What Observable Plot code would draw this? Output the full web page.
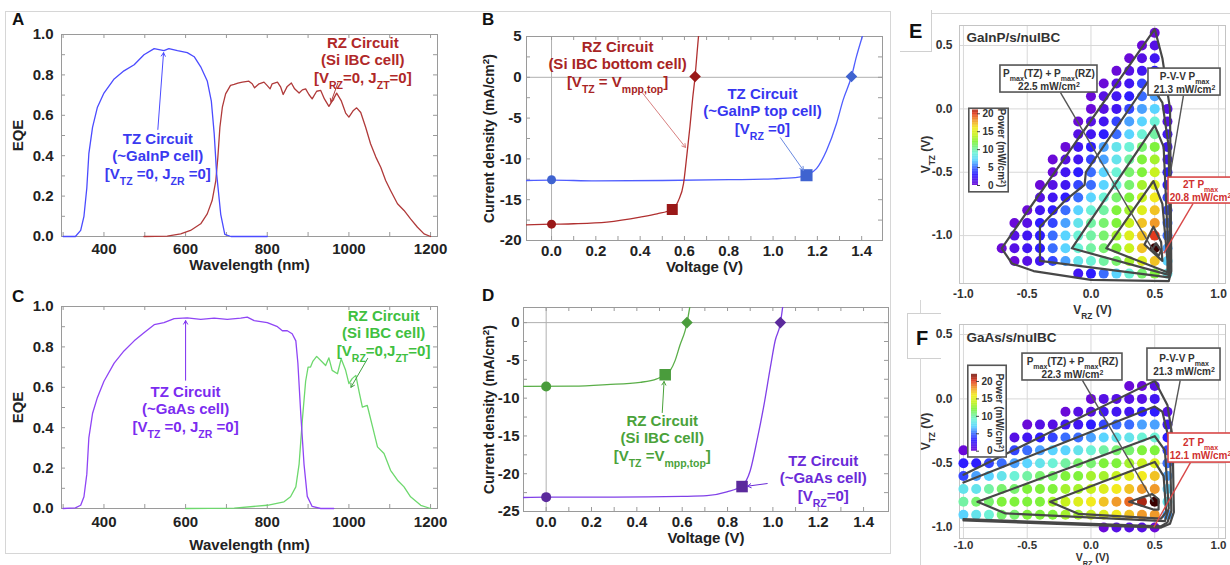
<!DOCTYPE html>
<html><head><meta charset="utf-8">
<script src="https://cdn.jsdelivr.net/npm/d3@7"></script>
<script src="https://cdn.jsdelivr.net/npm/@observablehq/plot@0.6"></script>
<style>
body{margin:0;background:#fff;}
#root{position:relative;width:1230px;height:565px;overflow:hidden;background:#fff;font-family:"Liberation Sans",Arial,Helvetica,sans-serif;}
.lbl{position:absolute;font-weight:bold;line-height:1;color:#111;}
.ln{position:absolute;background:#d6d6d6;}
</style></head><body><div id="root"></div>
<script>
// ================= DATA =================
// Panel A (GaInP / Si EQE)
const aTzWavelength = [300,330,343,351,358,363,372,384,400,425,449,474,498,523,547,559,580,604,621,637,653,663,670,676,686,696,711,800];
const aTzEqe = [0,0,0.03,0.10,0.24,0.41,0.54,0.64,0.71,0.78,0.82,0.85,0.90,0.93,0.92,0.93,0.92,0.91,0.89,0.84,0.77,0.67,0.51,0.31,0.11,0.01,0,0];
const aRzWavelength = [498,555,588,612,637,653,665,674,679,684,690,698,710,719,728,739,755,763,769,780,792,800,807,812,825,833,839,849,859,867,878,886,894,902,910,921,931,940,951,962,970,981,992,1000,1011,1019,1029,1041,1053,1066,1078,1090,1102,1119,1135,1151,1168,1184,1200];
const aRzEqe = [0,0.002,0.013,0.03,0.063,0.112,0.178,0.277,0.393,0.541,0.640,0.706,0.748,0.753,0.759,0.764,0.769,0.756,0.736,0.756,0.764,0.747,0.731,0.756,0.764,0.739,0.703,0.743,0.76,0.731,0.71,0.726,0.731,0.703,0.681,0.719,0.723,0.681,0.644,0.680,0.710,0.673,0.611,0.591,0.624,0.637,0.614,0.541,0.459,0.393,0.343,0.277,0.228,0.162,0.129,0.087,0.046,0.013,0];
// Panel C (GaAs / Si EQE)
const cTzWavelength = [300,330,343,351,358,363,372,384,400,425,449,474,498,523,547,572,604,637,670,702,735,751,768,800,825,837,849,861,870,875,882,890,898,910,931,963];
const cTzEqe = [0,0.003,0.016,0.058,0.17,0.35,0.47,0.55,0.63,0.72,0.78,0.83,0.87,0.91,0.92,0.94,0.944,0.936,0.942,0.936,0.942,0.947,0.93,0.92,0.90,0.88,0.88,0.865,0.83,0.72,0.47,0.22,0.06,0.01,0,0];
const cRzWavelength = [600,719,800,841,857,870,878,886,894,900,906,912,921,931,943,951,959,972,981,992,1000,1008,1017,1025,1033,1045,1058,1070,1086,1102,1119,1135,1151,1176,1200];
const cRzEqe = [0,0.002,0.016,0.033,0.058,0.107,0.22,0.44,0.63,0.70,0.70,0.73,0.753,0.733,0.708,0.746,0.684,0.667,0.741,0.684,0.618,0.643,0.659,0.577,0.502,0.51,0.404,0.305,0.272,0.189,0.14,0.107,0.058,0.016,0];
// Panel B (J-V, GaInP / Si)
const bRzVoltage = [-0.113,0,0.1,0.25,0.40,0.476,0.543,0.573,0.596,0.611,0.625,0.637,0.648,0.657,0.664];
const bRzCurrent = [-18.08,-18.0,-17.95,-17.75,-17.14,-16.73,-16.2,-15.1,-13.0,-9.5,-6.0,-2.6,0.1,3.0,5.2];
const bTzVoltage = [-0.113,0,0.2,0.5,0.8,1.0,1.1,1.151,1.196,1.241,1.286,1.316,1.354,1.376,1.403];
const bTzCurrent = [-12.65,-12.6,-12.7,-12.65,-12.55,-12.45,-12.3,-12.0,-11.2,-9.0,-5.7,-2.8,0.1,2.5,5.0];
const bRzMarkV = [0,0.545,0.648], bRzMarkJ = [-18.0,-16.2,0.1];
const bTzMarkV = [0,1.151,1.354], bTzMarkJ = [-12.55,-12.0,0.1];
// Panel D (J-V, GaAs / Si)
const dRzVoltage = [-0.1,0.12,0.268,0.415,0.488,0.525,0.547,0.569,0.59,0.613,0.621,0.632,0.64];
const dRzCurrent = [-8.45,-8.4,-8.2,-7.9,-7.45,-6.9,-6.35,-5.0,-3.0,-1.06,-0.1,1.8,3.0];
const dTzVoltage = [-0.1,0,0.3,0.6,0.709,0.797,0.864,0.9,0.93,0.959,0.989,1.01,1.033,1.045];
const dTzCurrent = [-23.15,-23.1,-23.1,-23.0,-22.9,-22.4,-21.6,-19.6,-15.6,-11.2,-5.9,-2.4,-0.1,2.5];
const dRzMarkV = [0,0.525,0.621], dRzMarkJ = [-8.45,-6.9,0];
const dTzMarkV = [0,0.864,1.033], dTzMarkJ = [-23.1,-21.7,0];
// Panel E power map (GaInP/s/nuIBC): rows of V_TZ, first V_RZ of row, powers at 0.1 V steps
const eRowVtz = [0.6,0.5,0.4,0.3,0.2,0.1,0.0,-0.1,-0.2,-0.3,-0.4,-0.5,-0.6,-0.7,-0.8,-0.9,-1.0,-1.1,-1.2,-1.3];
const eRowStart = [0.5,0.4,0.3,0.2,0.1,0.0,0.0,-0.1,-0.1,-0.2,-0.3,-0.3,-0.4,-0.4,-0.5,-0.6,-0.6,-0.7,-0.6,-0.1];
const eRowPower = [
 [0],[0,1],[0,1,2],[0,1,2,3],[0,1,2,4,4],[0,1,2,3,5,6],[0,1,2,4,6,7,1],
 [0,1,2,4,6,7,9,1],[1,2,3,5,7,9,10,2],[0,2,3,6,8,9,11,12,2],[0,1,2,4,6,8,10,12,13,2],
 [0,2,3,5,7,9,11,12,14,3],[0,1,2,4,5,7,9,11,13,15,3],[1,2,3,5,7,9,11,12,14,16,4],
 [0,2,3,5,7,9,10,12,13,15,17,4],[0,1,3,4,6,8,10,11,12,14,17,18,5],[1,2,3,5,7,9,10,11,13,15,17,20,5],
 [0,1,2,3,5,7,9,10,11,12,14,17,23,6],[0,1,2,4,6,8,9,10,11,13,15,17,7],[2,3,5,7,9,11,12,8]
];
const eContours = [
 [[-0.70,-1.10],[0.50,0.63],[0.56,0.40],[0.62,0.0],[0.63,-1.28],[0.61,-1.36],[0.0,-1.35],[-0.45,-1.28],[-0.62,-1.22],[-0.70,-1.10]],
 [[0.61,-1.33],[-0.40,-1.2],[-0.40,-0.93],[-0.20,-0.72],[-0.05,-0.60],[-0.04,-0.50],[0.45,0.22],[0.56,0.05],[0.61,-0.3],[0.62,-1.25],[0.61,-1.33]],
 [[0.61,-1.31],[-0.15,-1.10],[0.50,-0.13],[0.57,-0.3],[0.61,-1.2],[0.61,-1.31]],
 [[0.60,-1.29],[0.12,-1.10],[0.49,-0.57],[0.56,-0.75],[0.60,-1.2],[0.60,-1.29]],
 [[0.56,-1.2],[0.42,-1.07],[0.49,-0.93],[0.55,-1.05],[0.56,-1.2]],
 [[0.53,-1.16],[0.48,-1.11],[0.51,-1.06],[0.55,-1.12],[0.53,-1.16]]
];
// Panel F power map (GaAs/s/nuIBC)
const fRowVtz = [0.1,0.0,-0.1,-0.2,-0.3,-0.4,-0.5,-0.6,-0.7,-0.8,-0.9,-1.0];
const fRowStart = [0.3,0.0,-0.2,-0.5,-0.7,-1.0,-1.0,-1.0,-1.0,-1.0,-1.0,0.1];
const fRowPower = [
 [0,0,1],[0,1,1,1,1,2],[0,1,1,2,2,2,3,3,1],[0,1,1,2,2,3,4,5,5,6,6,2],
 [0,1,2,3,4,5,5,6,7,8,8,9,9,3],
 [0,1,2,3,4,5,6,7,7,8,9,10,11,11,12,12,4],
 [3,3,4,5,6,7,8,9,10,11,11,12,12,13,14,15,5],
 [4,6,7,8,9,10,11,11,12,12,13,13,14,15,16,17,6],
 [8,8,10,11,11,12,12,12,13,13,14,15,16,17,18,18,7],
 [10,11,11,12,12,12,12,13,14,15,16,17,18,19,21,23,8],
 [7,8,9,11,11,12,12,12,13,13,14,15,16,17,18,18,6],
 [0,1,1,1,0]
];
const fContours = [
 [[-1.0,-0.59],[0.5,0.14],[0.6,-0.05],[0.64,-0.3],[0.65,-0.88],[0.62,-0.97],[0.55,-1.0],[-1.0,-0.945]],
 [[-1.0,-0.65],[0.5,-0.06],[0.56,-0.1],[0.62,-0.35],[0.63,-0.87],[0.6,-0.96],[0.55,-0.99],[-1.0,-0.935]],
 [[-0.89,-0.80],[0.5,-0.29],[0.58,-0.4],[0.61,-0.85],[0.58,-0.95],[-0.67,-0.89],[-0.89,-0.80]],
 [[-0.32,-0.80],[0.5,-0.49],[0.57,-0.6],[0.59,-0.88],[0.55,-0.93],[-0.1,-0.893],[-0.32,-0.80]],
 [[0.3,-0.80],[0.48,-0.74],[0.53,-0.78],[0.53,-0.86],[0.49,-0.86],[0.3,-0.80]]
];
// colour map for power (mW/cm2)
const powerStops = [0,3,5,7,9,12,14,16,18,20,23];
const powerColors = ["#6a0ad8","#2d1cff","#3a6dff","#5ad4ff","#6df2d6","#7ff23c","#c8f21e","#f2ea1e","#f09a2a","#e23a1e","#3a0000"];
// tick labels
const eqeXTicks = [400,600,800,1000,1200];
const eqeYTicks = [0,0.2,0.4,0.6,0.8,1.0];
const eqeMinorX = [300,400,500,600,700,800,900,1000,1100,1200];
const eqeMinorY = [0,0.1,0.2,0.3,0.4,0.5,0.6,0.7,0.8,0.9,1.0];
const ivXTicks = [0,0.2,0.4,0.6,0.8,1.0,1.2,1.4];
const ivMinorX = [0,0.1,0.2,0.3,0.4,0.5,0.6,0.7,0.8,0.9,1.0,1.1,1.2,1.3,1.4];
const bYTicks = [5,0,-5,-10,-15,-20];
const bMinorY = [5,2.5,0,-2.5,-5,-7.5,-10,-12.5,-15,-17.5,-20];
const dYTicks = [0,-5,-10,-15,-20,-25];
const dMinorY = [0,-2.5,-5,-7.5,-10,-12.5,-15,-17.5,-20,-22.5,-25];
const mapXTicks = [-1.0,-0.5,0.0,0.5,1.0];
const mapYTicks = [0.5,0.0,-0.5,-1.0];
const powerTicks = [0,5,10,15,20];

// ================= HELPERS =================
const FONT = '"Liberation Sans", Arial, Helvetica, sans-serif';
const root = document.getElementById("root");
const baseStyle = {background:"transparent", fontFamily:FONT, color:"#222", overflow:"visible"};
const zip = (xs, ys) => xs.map((x,i)=>({x, y:ys[i]}));
const DIAMOND = (()=>{try{Plot.plot({marks:[Plot.dot([0],{x:d=>d,symbol:"diamond2"})]});return "diamond2";}catch(e){return "diamond";}})();

function richify(node){
  node.querySelectorAll("text").forEach(t=>{
    const spans = t.querySelectorAll("tspan");
    const targets = spans.length ? Array.from(spans) : [t];
    targets.forEach(el=>{
      const s = el.textContent;
      if(!/[_^]\{/.test(s)) return;
      while(el.firstChild) el.removeChild(el.firstChild);
      const re=/([_^])\{([^}]*)\}/g; let last=0, m;
      while((m=re.exec(s))){
        if(m.index>last) el.appendChild(document.createTextNode(s.slice(last,m.index)));
        const ts=document.createElementNS("http://www.w3.org/2000/svg","tspan");
        ts.setAttribute("baseline-shift", m[1]==="_" ? "sub" : "super");
        ts.setAttribute("font-size","70%");
        ts.textContent=m[2]; el.appendChild(ts); last=re.lastIndex;
      }
      if(last<s.length) el.appendChild(document.createTextNode(s.slice(last)));
    });
  });
}
function mount(svg, left, top){
  const d=document.createElement("div");
  d.style.cssText=`position:absolute;left:${left}px;top:${top}px;`;
  d.appendChild(svg); root.appendChild(d); richify(svg);
}
function html(cls, css, text){
  const d=document.createElement("div"); d.className=cls; d.style.cssText=css; if(text) d.textContent=text; root.appendChild(d);
}
function note(x,y,text,fill,size=15){
  return Plot.text([text],{x,y,text:d=>d,fill,fontSize:size,fontWeight:"bold",lineHeight:1.17,lineAnchor:"middle"});
}
function arrow(x1,y1,x2,y2,stroke,w=1){
  return Plot.arrow([0],{x1,y1,x2,y2,stroke,strokeWidth:w,headLength:6,bend:0});
}
// circle / square / diamond markers (Jsc, MPP, Voc)
function markers(vs, js, fill, rc, rs, rd){
  const pts = zip(vs, js);
  return [
    Plot.dot(pts.slice(0,1),{x:"x",y:"y",fill,r:rc,symbol:"circle"}),
    Plot.dot(pts.slice(1,2),{x:"x",y:"y",fill,r:rs,symbol:"square"}),
    Plot.dot(pts.slice(2,3),{x:"x",y:"y",fill,r:rd,symbol:DIAMOND})
  ];
}

function framed(c){
  const fw=c.width-c.ml-c.mr, fh=c.height-c.mt-c.mb;
  const xd=c.xd, yd=c.yd;
  const lx=(xd[1]-xd[0])/fw*4, ly=(yd[1]-yd[0])/fh*4;
  const tk="#9a9a9a";
  const marks=[
    ...(c.under||[]),
    Plot.ruleX(c.minorX,{x:d=>d,y1:yd[0],y2:yd[0]+ly,stroke:tk}),
    Plot.ruleX(c.minorX,{x:d=>d,y1:yd[1],y2:yd[1]-ly,stroke:tk}),
    Plot.ruleY(c.minorY,{y:d=>d,x1:xd[0],x2:xd[0]+lx,stroke:tk}),
    Plot.ruleY(c.minorY,{y:d=>d,x1:xd[1],x2:xd[1]-lx,stroke:tk}),
    Plot.frame({stroke:"#9a9a9a"}),
    Plot.axisX(c.xTicks,{tickSize:0,tickPadding:c.xPad,tickFormat:c.xFmt,fontSize:15,fontWeight:"bold",fill:"#222",label:null}),
    Plot.axisY(c.yTicks,{tickSize:0,tickPadding:c.yPad,tickFormat:c.yFmt,fontSize:15,fontWeight:"bold",fill:"#222",label:null}),
    Plot.text([c.xLabel],{text:d=>d,frameAnchor:"bottom",dy:c.xLabelDy,textAnchor:"middle",fontSize:15,fontWeight:"bold",fill:"#222",lineAnchor:"middle"}),
    Plot.text([c.yLabel],{text:d=>d,frameAnchor:"left",dx:c.yLabelDx,rotate:-90,textAnchor:"middle",fontSize:c.yLabelSize||15,fontWeight:"bold",fill:"#222",lineAnchor:"middle"}),
    ...c.marks
  ];
  const svg=Plot.plot({width:c.width,height:c.height,marginTop:c.mt,marginRight:c.mr,marginBottom:c.mb,marginLeft:c.ml,
    x:{domain:xd},y:{domain:yd},style:baseStyle,marks});
  mount(svg,c.left,c.top);
}

function fieldPoints(vtz, starts, power){
  const pts=[];
  vtz.forEach((y,i)=>power[i].forEach((p,j)=>pts.push({vrz:+(starts[i]+0.1*j).toFixed(2), vtz:y, p})));
  return pts;
}

function mapPanel(c){
  const marks=[
    Plot.ruleX(mapXTicks,{x:d=>d,stroke:"#d8d8d8"}),
    Plot.ruleY(mapYTicks,{y:d=>d,stroke:"#d8d8d8"}),
    Plot.frame({stroke:"#c4c4c4"}),
    Plot.dot(c.points,{x:"vrz",y:"vtz",r:5,fill:"p"}),
    ...c.contours.map(k=>Plot.line(k,{x:d=>d[0],y:d=>d[1],stroke:"#474747",strokeWidth:2.2,strokeLinejoin:"round"})),
    Plot.link(c.grayLeaders,{x1:d=>d[0],y1:d=>d[1],x2:d=>d[2],y2:d=>d[3],stroke:"#555",strokeWidth:1.4}),
    Plot.link(c.redLeaders,{x1:d=>d[0],y1:d=>d[1],x2:d=>d[2],y2:d=>d[3],stroke:"#d84848",strokeWidth:1.4}),
    Plot.rect(c.grayBoxes,{x1:"x1",x2:"x2",y1:"y1",y2:"y2",fill:"white",stroke:"#555",strokeWidth:1.6}),
    Plot.rect(c.redBoxes,{x1:"x1",x2:"x2",y1:"y1",y2:"y2",fill:"white",stroke:"#d84848",strokeWidth:1.6}),
    Plot.text(c.grayBoxes,{x:d=>(d.x1+d.x2)/2,y:d=>(d.y1+d.y2)/2,text:"text",fill:"#333",fontSize:10,fontWeight:"bold",lineHeight:1.3,lineAnchor:"middle"}),
    Plot.text(c.redBoxes,{x:d=>(d.x1+d.x2)/2,y:d=>(d.y1+d.y2)/2,text:"text",fill:"#d03030",fontSize:10,fontWeight:"bold",lineHeight:1.3,lineAnchor:"middle"}),
    Plot.axisX(mapXTicks,{tickSize:0,tickPadding:c.xPad,tickFormat:d=>d.toFixed(1),fontSize:c.tickSize||12,fontWeight:"bold",fill:"#333",label:null}),
    Plot.axisY(mapYTicks,{tickSize:0,tickPadding:7,tickFormat:d=>d.toFixed(1),fontSize:12,fontWeight:"bold",fill:"#333",label:null}),
    Plot.text([c.title],{text:d=>d,frameAnchor:"top-left",dx:7,dy:c.titleDy,textAnchor:"start",lineAnchor:"middle",fontSize:13.5,fontWeight:"bold",fill:"#333"}),
    Plot.text(["V_{RZ} (V)"],{text:d=>d,frameAnchor:"bottom",dy:c.xLabelDy,textAnchor:"middle",lineAnchor:"middle",fontSize:c.xLabelSize||12,fontWeight:"bold",fill:"#333"}),
    Plot.text(["V_{TZ} (V)"],{text:d=>d,frameAnchor:"left",dx:-33,rotate:-90,textAnchor:"middle",lineAnchor:"middle",fontSize:12,fontWeight:"bold",fill:"#333"})
  ];
  const svg=Plot.plot({width:c.width,height:c.height,marginTop:c.mt,marginRight:c.mr,marginBottom:c.mb,marginLeft:c.ml,
    x:{domain:c.xd},y:{domain:c.yd},color:{type:"linear",domain:powerStops,range:powerColors,interpolate:"rgb"},
    style:baseStyle,marks});
  mount(svg,c.left,c.top);
}

function colorbar(left,top,w,h,mt,mb,ymax,boxY1,boxY2){
  const ramp=d3.range(0,ymax,0.2);
  const svg=Plot.plot({width:w,height:h,marginTop:mt,marginBottom:mb,marginLeft:0,marginRight:0,
    x:{domain:[0,w],axis:null},y:{domain:[0,ymax],axis:null},
    color:{type:"linear",domain:powerStops,range:powerColors,interpolate:"rgb"},style:baseStyle,
    marks:[
      Plot.rect([0],{x1:0.8,x2:w-0.8,y1:boxY1,y2:boxY2,fill:"white",stroke:"#555",strokeWidth:1.6}),
      Plot.rect(ramp,{x1:4,x2:10,y1:d=>d,y2:d=>d+0.25,fill:d=>d+0.1}),
      Plot.ruleY(powerTicks,{y:d=>d,x1:9,x2:12,stroke:"#444"}),
      Plot.text(powerTicks,{x:25,y:d=>d,text:d=>String(d),textAnchor:"end",fontSize:10,fontWeight:"bold",fill:"#333"}),
      Plot.text(["Power (mW/cm^{2})"],{x:w-8,y:ymax/2,text:d=>d,rotate:90,fontSize:10,fontWeight:"bold",fill:"#333"})
    ]});
  mount(svg,left,top);
}

// ================= FIGURE =================
html("ln","left:5px;top:11px;width:884px;height:541px;background:none;border:1px solid #d6d6d6;");
html("ln","left:932px;top:13px;width:298px;height:1px;");
html("ln","left:900px;top:10px;width:31px;height:41px;background:none;border-right:1px solid #d0d0d0;border-bottom:1px solid #d0d0d0;");
html("ln","left:920px;top:300px;width:1px;height:13px;");
html("ln","left:907px;top:313px;width:33px;height:44px;background:none;border:1px solid #d0d0d0;border-right:none;");
html("ln","left:920px;top:358px;width:1px;height:207px;");

// Panel A
framed({left:0,top:0,width:450,height:285,mt:34,mr:13,mb:49,ml:61,xd:[296,1217],yd:[0,1],
  minorX:eqeMinorX,minorY:eqeMinorY,xTicks:eqeXTicks,yTicks:eqeYTicks,xPad:7,yPad:8,
  xFmt:d=>String(d),yFmt:d=>d.toFixed(1),xLabel:"Wavelength (nm)",xLabelDy:29,yLabel:"EQE",yLabelDx:-43,
  marks:[
    Plot.line(zip(aRzWavelength,aRzEqe),{x:"x",y:"y",stroke:"#b03a3a",strokeWidth:1.3}),
    Plot.line(zip(aTzWavelength,aTzEqe),{x:"x",y:"y",stroke:"#4b4bff",strokeWidth:1.3}),
    arrow(532,0.53,546,0.91,"#4b4bff"),
    arrow(973,0.76,956,0.665,"#b03a3a"),
    note(532,0.40,"TZ Circuit\n(~GaInP cell)\n[V_{TZ} =0, J_{ZR} =0]","#3a3af0"),
    note(1034,0.876,"RZ Circuit\n(Si IBC cell)\n[V_{RZ}=0, J_{ZT}=0]","#b02828")
  ]});

// Panel B
framed({left:440,top:0,width:450,height:285,mt:36,mr:8,mb:45,ml:86,xd:[-0.113,1.494],yd:[-20,5],
  minorX:ivMinorX,minorY:bMinorY,xTicks:ivXTicks,yTicks:bYTicks,xPad:4.5,yPad:5,
  xFmt:d=>d.toFixed(1),yFmt:d=>String(d),xLabel:"Voltage (V)",xLabelDy:27,
  yLabel:"Current density (mA/cm^{2})",yLabelDx:-37,yLabelSize:14,
  under:[Plot.ruleX([0],{stroke:"#b0b0b0"}),Plot.ruleY([0],{stroke:"#b0b0b0"})],
  marks:[
    Plot.line(zip(bTzVoltage,bTzCurrent),{x:"x",y:"y",stroke:"#4f5dff",strokeWidth:1.3,curve:"monotone-x",clip:true}),
    Plot.line(zip(bRzVoltage,bRzCurrent),{x:"x",y:"y",stroke:"#b03030",strokeWidth:1.3,curve:"monotone-x",clip:true}),
    ...markers(bRzMarkV,bRzMarkJ,"#9a1818",4.5,6.2,5.2),
    ...markers(bTzMarkV,bTzMarkJ,"#3f63d0",4.5,6.8,5.2),
    arrow(0.41,-1.9,0.605,-8.6,"#d88080"),
    arrow(1.033,-7.4,1.137,-11.4,"#6a8ae0"),
    note(0.298,1.69,"RZ Circuit\n(Si IBC bottom cell)\n[V_{TZ} = V_{mpp,top}]","#a82424"),
    note(0.952,-4.07,"TZ Circuit\n(~GaInP top cell)\n[V_{RZ} =0]","#3636f0")
  ]});

// Panel C
framed({left:0,top:280,width:450,height:285,mt:26,mr:13,mb:57,ml:61,xd:[296,1217],yd:[0,1],
  minorX:eqeMinorX,minorY:eqeMinorY,xTicks:eqeXTicks,yTicks:eqeYTicks,xPad:7.5,yPad:8,
  xFmt:d=>String(d),yFmt:d=>d.toFixed(1),xLabel:"Wavelength (nm)",xLabelDy:37,yLabel:"EQE",yLabelDx:-43,
  marks:[
    Plot.line(zip(cRzWavelength,cRzEqe),{x:"x",y:"y",stroke:"#6dd86d",strokeWidth:1.3}),
    Plot.line(zip(cTzWavelength,cTzEqe),{x:"x",y:"y",stroke:"#8f45f5",strokeWidth:1.3}),
    arrow(600,0.635,600,0.93,"#7b2cf0"),
    arrow(1046,0.743,1005,0.6,"#40a040"),
    note(600,0.495,"TZ Circuit\n(~GaAs cell)\n[V_{TZ} =0, J_{ZR} =0]","#7b2cf0"),
    note(1085,0.871,"RZ Circuit\n(Si IBC cell)\n[V_{RZ}=0,J_{ZT}=0]","#40c040")
  ]});

// Panel D
framed({left:440,top:280,width:450,height:285,mt:27,mr:2,mb:54,ml:83,xd:[-0.1,1.51],yd:[-25,2],
  minorX:ivMinorX,minorY:dMinorY,xTicks:ivXTicks,yTicks:dYTicks,xPad:4.5,yPad:4,
  xFmt:d=>d.toFixed(1),yFmt:d=>String(d),xLabel:"Voltage (V)",xLabelDy:27,
  yLabel:"Current density (mA/cm^{2})",yLabelDx:-34,yLabelSize:14,
  under:[Plot.ruleX([0],{stroke:"#b0b0b0"}),Plot.ruleY([0],{stroke:"#b0b0b0"})],
  marks:[
    Plot.line(zip(dRzVoltage,dRzCurrent),{x:"x",y:"y",stroke:"#5aae48",strokeWidth:1.3,curve:"monotone-x",clip:true}),
    Plot.line(zip(dTzVoltage,dTzCurrent),{x:"x",y:"y",stroke:"#8040e8",strokeWidth:1.3,curve:"monotone-x",clip:true}),
    ...markers(dRzMarkV,dRzMarkJ,"#4a9c3c",5,6.5,5.2),
    ...markers(dTzMarkV,dTzMarkJ,"#5b2a9c",5,6.5,5.2),
    arrow(0.512,-11.9,0.52,-7.8,"#4aa23a"),
    arrow(0.975,-21.3,0.888,-21.65,"#6a2ad8"),
    note(0.512,-15.2,"RZ Circuit\n(Si IBC cell)\n[V_{TZ} =V_{mpp,top}]","#4aa23a"),
    note(1.222,-20.5,"TZ Circuit\n(~GaAs cell)\n[V_{RZ}=0]","#6a2ad8")
  ]});

// Panel E
mapPanel({left:900,top:0,width:330,height:320,mt:25,mr:5,mb:37,ml:59,xd:[-1.031,1.055],yd:[-1.378,0.658],
  points:fieldPoints(eRowVtz,eRowStart,eRowPower),contours:eContours,title:"GaInP/s/nuIBC",titleDy:12,xPad:6,xLabelDy:27,
  grayLeaders:[[-0.239,0.129,0.49,-1.12],[0.725,0.105,0.62,-0.52]],
  redLeaders:[[0.80,-0.747,0.57,-1.14]],
  grayBoxes:[{x1:-0.71,x2:0.051,y1:0.129,y2:0.342,text:"P_{max}(TZ) + P_{max}(RZ)\n22.5 mW/cm^{2}"},
             {x1:0.451,x2:1.016,y1:0.105,y2:0.318,text:"P-V-V P_{max}\n21.3 mW/cm^{2}"}],
  redBoxes:[{x1:0.608,x2:1.11,y1:-0.747,y2:-0.542,text:"2T P_{max}\n20.8 mW/cm^{2}"}]});
colorbar(968,108,41,84,1.7,7,21,-1.9,21.4);

// Panel F
mapPanel({left:900,top:300,width:330,height:265,mt:24,mr:5,mb:27,ml:59,xd:[-1.031,1.055],yd:[-1.085,0.578],
  points:fieldPoints(fRowVtz,fRowStart,fRowPower),contours:fContours,title:"GaAs/s/nuIBC",titleDy:13,xPad:2,tickSize:11.5,xLabelDy:19.5,xLabelSize:10.5,
  grayLeaders:[[-0.067,0.143,0.49,-0.8],[0.70,0.143,0.62,-0.27]],
  redLeaders:[[0.78,-0.495,0.493,-0.997]],
  grayBoxes:[{x1:-0.537,x2:0.247,y1:0.143,y2:0.352,text:"P_{max}(TZ) + P_{max}(RZ)\n22.3 mW/cm^{2}"},
             {x1:0.443,x2:1.016,y1:0.143,y2:0.391,text:"P-V-V P_{max}\n21.3 mW/cm^{2}"}],
  redBoxes:[{x1:0.608,x2:1.11,y1:-0.495,y2:-0.269,text:"2T P_{max}\n12.1 mW/cm^{2}"}]});
colorbar(967,365,40,92,9,6.3,22,-1.8,24.5);

// panel letters
html("lbl","left:12px;top:11px;font-size:17px;","A");
html("lbl","left:482px;top:11px;font-size:17px;","B");
html("lbl","left:12px;top:288px;font-size:17px;","C");
html("lbl","left:482px;top:287px;font-size:17px;","D");
html("lbl","left:909px;top:21px;font-size:20px;","E");
html("lbl","left:916px;top:328px;font-size:20px;","F");
</script></body></html>
